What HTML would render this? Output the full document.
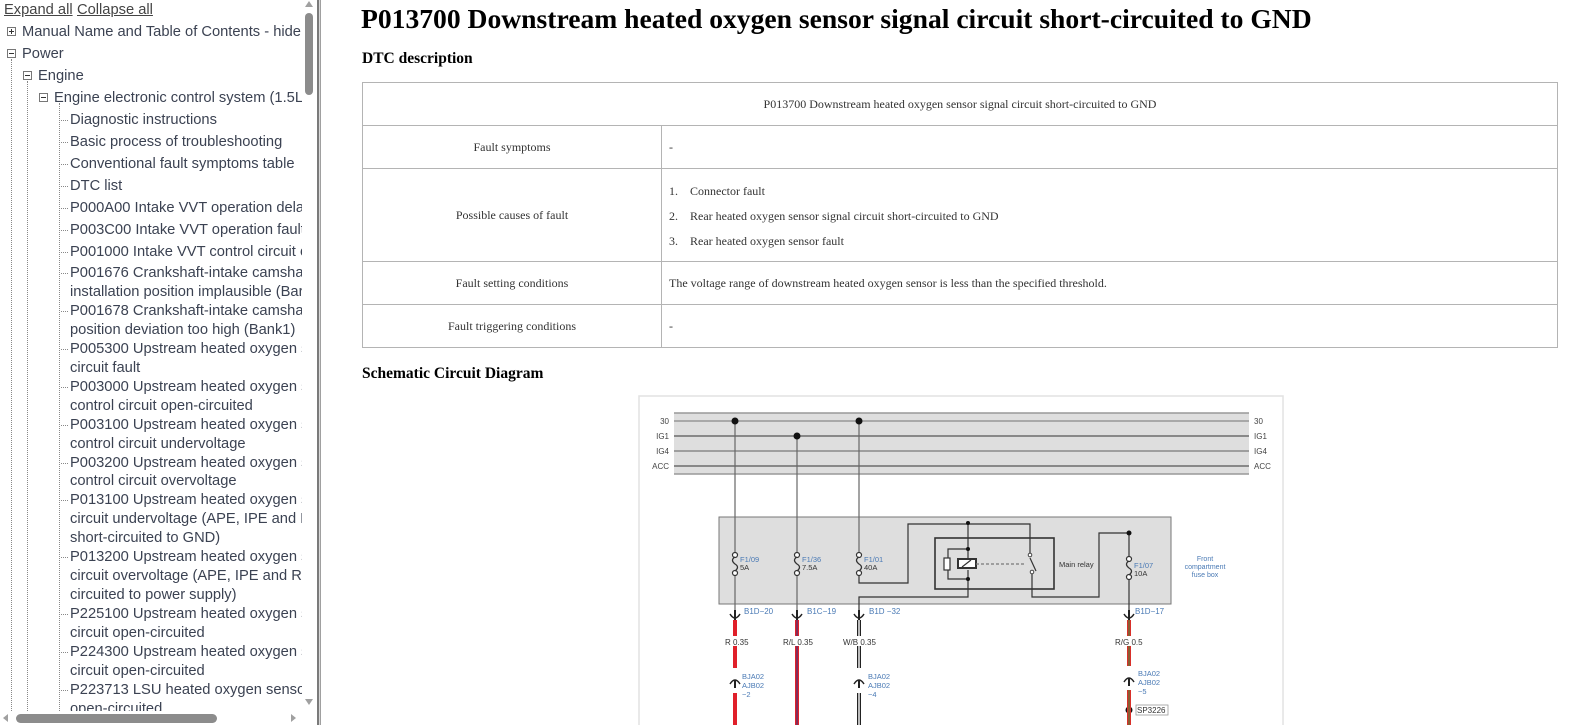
<!DOCTYPE html>
<html><head><meta charset="utf-8">
<style>
html,body{margin:0;padding:0;width:1594px;height:725px;overflow:hidden;background:#fff;}
#side{position:absolute;left:0;top:0;width:302px;height:725px;overflow:hidden;font-family:"Liberation Sans",Arial,sans-serif;font-size:14.7px;color:#3b4252;}
.l{position:absolute;white-space:nowrap;line-height:16px;}
.tb{position:absolute;width:7px;height:7px;border:1px solid #777;background:#fff;}
.tb:before{content:"";position:absolute;left:1px;top:3px;width:5px;height:1px;background:#333;}
.tb.p:after{content:"";position:absolute;left:3px;top:1px;width:1px;height:5px;background:#333;}
.vd{position:absolute;border-left:1px dotted #888;width:0;}
.hd{position:absolute;border-top:1px dotted #888;height:0;width:7px;}
#main{position:absolute;left:0;top:0;font-family:"Liberation Serif","Times New Roman",serif;color:#000;}
table{position:absolute;left:362px;top:82px;width:1196px;border-collapse:collapse;font-size:12px;color:#333;}
td{border:1.5px solid #b4b4b4;padding:0 7px;}
</style></head><body>
<div id="side">
<div class="l" style="left:4px;top:2px;text-decoration:underline;color:#444;">Expand all</div>
<div class="l" style="left:77px;top:2px;text-decoration:underline;color:#444;">Collapse all</div>
<div class="tb p" style="left:7px;top:27px"></div><div class="l" style="left:22px;top:24px">Manual Name and Table of Contents - hide</div>
<div class="tb" style="left:7px;top:49px"></div><div class="l" style="left:22px;top:46px">Power</div>
<div class="vd" style="left:11px;top:59px;height:666px"></div>
<div class="tb" style="left:23px;top:71px"></div><div class="l" style="left:38px;top:68px">Engine</div>
<div class="vd" style="left:27px;top:81px;height:644px"></div>
<div class="tb" style="left:39px;top:93px"></div><div class="l" style="left:54px;top:90px">Engine electronic control system (1.5L</div>
<div class="vd" style="left:59px;top:103px;height:622px"></div>
</div>
<script>
var items=[[120,"Diagnostic instructions",1],[142,"Basic process of troubleshooting",1],[164,"Conventional fault symptoms table",1],[186,"DTC list",1],[208,"P000A00 Intake VVT operation dela",1],[230,"P003C00 Intake VVT operation fault",1],[252,"P001000 Intake VVT control circuit o",1],[273,"P001676 Crankshaft-intake camsha",1],
[0,"installation position implausible (Bar",0],[0,"P001678 Crankshaft-intake camsha",1],[0,"position deviation too high (Bank1)",0],[0,"P005300 Upstream heated oxygen s",1],[0,"circuit fault",0],[0,"P003000 Upstream heated oxygen s",1],[0,"control circuit open-circuited",0],[0,"P003100 Upstream heated oxygen s",1],[0,"control circuit undervoltage",0],[0,"P003200 Upstream heated oxygen s",1],[0,"control circuit overvoltage",0],[0,"P013100 Upstream heated oxygen s",1],[0,"circuit undervoltage (APE, IPE and R",0],[0,"short-circuited to GND)",0],[0,"P013200 Upstream heated oxygen s",1],[0,"circuit overvoltage (APE, IPE and R",0],[0,"circuited to power supply)",0],[0,"P225100 Upstream heated oxygen s",1],[0,"circuit open-circuited",0],[0,"P224300 Upstream heated oxygen s",1],[0,"circuit open-circuited",0],[0,"P223713 LSU heated oxygen senso",1],[0,"open-circuited",0]];
var s=document.getElementById('side'),h='',y=273;
for(var i=0;i<items.length;i++){var it=items[i];if(i>=8){y+=18.95;}else y=it[0];
h+='<div class="l" style="left:70px;top:'+(y-8)+'px">'+it[1]+'</div>';
if(it[2])h+='<div class="hd" style="left:61px;top:'+y+'px"></div>';}
s.insertAdjacentHTML('beforeend',h);
</script>
<div style="position:absolute;left:302px;top:0;width:15px;height:711px;background:#fff;"></div>
<div style="position:absolute;left:305px;top:13px;width:8px;height:82px;background:#8c8c8c;border-radius:4px;"></div>
<div style="position:absolute;left:305px;top:1px;width:0;height:0;border-left:4px solid transparent;border-right:4px solid transparent;border-bottom:6px solid #a0a0a0;"></div>
<div style="position:absolute;left:305px;top:699px;width:0;height:0;border-left:4px solid transparent;border-right:4px solid transparent;border-top:6px solid #a0a0a0;"></div>
<div style="position:absolute;left:0;top:711px;width:317px;height:14px;background:#fff;"></div>
<div style="position:absolute;left:16px;top:714px;width:201px;height:9px;background:#8c8c8c;border-radius:5px;"></div>
<div style="position:absolute;left:3px;top:714px;width:0;height:0;border-top:4px solid transparent;border-bottom:4px solid transparent;border-right:5px solid #a0a0a0;"></div>
<div style="position:absolute;left:291px;top:714px;width:0;height:0;border-top:4px solid transparent;border-bottom:4px solid transparent;border-left:5px solid #a0a0a0;"></div>
<div style="position:absolute;left:317px;top:0;width:2px;height:725px;background:#7a7a7a;"></div>
<div style="position:absolute;left:319px;top:0;width:1px;height:725px;background:#d8d8d8;"></div>
<div style="position:absolute;left:320px;top:0;width:1px;height:725px;background:#a0a0a0;"></div>

<div id="main">
<div style="position:absolute;left:361px;top:3px;font-size:27.6px;font-weight:bold;white-space:nowrap;">P013700 Downstream heated oxygen sensor signal circuit short-circuited to GND</div>
<div style="position:absolute;left:362px;top:50px;font-size:15.5px;font-weight:bold;white-space:nowrap;">DTC description</div>
<table>
<tr style="height:43px"><td colspan="2" style="text-align:center">P013700 Downstream heated oxygen sensor signal circuit short-circuited to GND</td></tr>
<tr style="height:43px"><td style="width:284px;text-align:center">Fault symptoms</td><td>-</td></tr>
<tr style="height:93px"><td style="text-align:center">Possible causes of fault</td><td style="line-height:25px;padding-top:2px">
<div>1.&nbsp;&nbsp;&nbsp;&nbsp;Connector fault</div><div>2.&nbsp;&nbsp;&nbsp;&nbsp;Rear heated oxygen sensor signal circuit short-circuited to GND</div><div>3.&nbsp;&nbsp;&nbsp;&nbsp;Rear heated oxygen sensor fault</div></td></tr>
<tr style="height:43px"><td style="text-align:center">Fault setting conditions</td><td>The voltage range of downstream heated oxygen sensor is less than the specified threshold.</td></tr>
<tr style="height:43px"><td style="text-align:center">Fault triggering conditions</td><td>-</td></tr>
</table>
<div style="position:absolute;left:362px;top:365px;font-size:15.5px;font-weight:bold;white-space:nowrap;">Schematic Circuit Diagram</div>
</div>

<svg style="position:absolute;left:0;top:0" width="1594" height="725" font-family="Liberation Sans, Arial, sans-serif">
<rect x="639" y="396" width="644" height="340" fill="#fff" stroke="#e2e2e2" stroke-width="1.5"/>
<rect x="674" y="413" width="575" height="61" fill="#dedede"/>
<line x1="674" y1="413" x2="1249" y2="413" stroke="#999" stroke-width="1.5"/>
<line x1="674" y1="474" x2="1249" y2="474" stroke="#999" stroke-width="1.5"/>
<line x1="674" y1="421" x2="1249" y2="421" stroke="#888" stroke-width="1.2"/>
<line x1="674" y1="436" x2="1249" y2="436" stroke="#333" stroke-width="1"/>
<line x1="674" y1="451" x2="1249" y2="451" stroke="#777" stroke-width="1.2"/>
<line x1="674" y1="466" x2="1249" y2="466" stroke="#888" stroke-width="2"/>
<g font-size="8" fill="#444" text-anchor="end">
<text x="669" y="424">30</text><text x="669" y="439">IG1</text><text x="669" y="454">IG4</text><text x="669" y="469">ACC</text></g>
<g font-size="8" fill="#444">
<text x="1254" y="424">30</text><text x="1254" y="439">IG1</text><text x="1254" y="454">IG4</text><text x="1254" y="469">ACC</text></g>
<rect x="719" y="517" width="452" height="87" fill="#dedede" stroke="#777" stroke-width="1"/>
<g stroke="#666" stroke-width="1.2" fill="none">
<line x1="735" y1="421" x2="735" y2="553"/><line x1="797" y1="436" x2="797" y2="553"/><line x1="859" y1="421" x2="859" y2="553"/>
<line x1="735" y1="575" x2="735" y2="622"/><line x1="797" y1="575" x2="797" y2="622"/>
</g>
<g fill="#111"><circle cx="735" cy="421" r="3.5"/><circle cx="797" cy="436" r="3.5"/><circle cx="859" cy="421" r="3.5"/></g>
<g stroke="#333" stroke-width="1.2" fill="#fff">
<circle cx="735" cy="555" r="2.5"/><circle cx="735" cy="573" r="2.5"/>
<circle cx="797" cy="555" r="2.5"/><circle cx="797" cy="573" r="2.5"/>
<circle cx="859" cy="555" r="2.5"/><circle cx="859" cy="573" r="2.5"/>
<circle cx="1129" cy="559" r="2.5"/><circle cx="1129" cy="577" r="2.5"/>
</g>
<g stroke="#333" stroke-width="1.3" fill="none">
<path d="M735 557 q-5 3 0 7 q5 3 0 7"/><path d="M797 557 q-5 3 0 7 q5 3 0 7"/><path d="M859 557 q-5 3 0 7 q5 3 0 7"/><path d="M1129 561 q-5 3 0 7 q5 3 0 7"/>
</g>
<g font-size="7.5">
<text x="740" y="562" fill="#4a7ab5">F1/09</text><text x="740" y="570" fill="#333">5A</text>
<text x="802" y="562" fill="#4a7ab5">F1/36</text><text x="802" y="570" fill="#333">7.5A</text>
<text x="864" y="562" fill="#4a7ab5">F1/01</text><text x="864" y="570" fill="#333">40A</text>
<text x="1134" y="568" fill="#4a7ab5">F1/07</text><text x="1134" y="576" fill="#333">10A</text>
<text x="1059" y="567" fill="#333">Main relay</text>
</g>
<g font-size="7" fill="#4a7ab5" text-anchor="middle">
<text x="1205" y="561">Front</text><text x="1205" y="569">compartment</text><text x="1205" y="577">fuse box</text></g>
<g stroke="#333" stroke-width="1.2" fill="none">
<path d="M859 575 V583 H908 V524 H1030 V553"/>
<rect x="935" y="538" width="119" height="51" stroke-width="1.6"/>
<path d="M968 523 V558"/><path d="M968 570 V597 H859 V622"/>
<path d="M968 549 H948 V579 H968"/>
<path d="M1032 573 V597 H1099 V533 H1129 V557"/>
<path d="M1129 579 V622"/>
<line x1="1030" y1="558" x2="1036" y2="571"/>
</g>
<rect x="944" y="558" width="6" height="12" fill="#fff" stroke="#333" stroke-width="1.2"/>
<rect x="958" y="559" width="18" height="9" fill="#fff" stroke="#333" stroke-width="2"/>
<line x1="962" y1="567" x2="971" y2="560" stroke="#333" stroke-width="1.2"/>
<line x1="976" y1="564" x2="1026" y2="564" stroke="#777" stroke-width="1.3" stroke-dasharray="3,2"/>
<g fill="#fff" stroke="#333" stroke-width="0.9"><circle cx="1030" cy="555" r="1.8"/><circle cx="1032" cy="572" r="1.8"/></g>
<g fill="#111"><circle cx="968" cy="523" r="2"/><circle cx="968" cy="549" r="2"/><circle cx="968" cy="579" r="2"/><circle cx="1129" cy="533" r="2.5"/><circle cx="1129" cy="710" r="3.5"/></g>
<g stroke="#222" stroke-width="1.5" fill="none">
<path d="M730 614 q5 8 10 0"/><path d="M792 614 q5 8 10 0"/><path d="M854 614 q5 8 10 0"/><path d="M1124 614 q5 8 10 0"/>
<path d="M730 684 q5 -8 10 0"/><path d="M854 684 q5 -8 10 0"/><path d="M1124 682 q5 -8 10 0"/>
</g>
<g fill="#222"><rect x="734" y="610" width="2" height="10"/><rect x="796" y="610" width="2" height="10"/><rect x="858" y="610" width="2" height="10"/><rect x="1128" y="610" width="2" height="10"/>
<rect x="734" y="680" width="2" height="8"/><rect x="858" y="680" width="2" height="8"/><rect x="1128" y="678" width="2" height="8"/></g>
<g font-size="8" fill="#4a7ab5">
<text x="744" y="614">B1D−20</text><text x="807" y="614">B1C−19</text><text x="869" y="614">B1D −32</text><text x="1135" y="614">B1D−17</text>
</g>
<rect x="733" y="620" width="4" height="48" fill="#e0202a"/><rect x="733" y="693" width="4" height="40" fill="#e0202a"/>
<rect x="795" y="620" width="4" height="112" fill="#e0202a"/><rect x="796.5" y="620" width="1" height="112" fill="#2a3a8a"/>
<rect x="857" y="620" width="4" height="48" fill="#222"/><rect x="858.3" y="620" width="1.4" height="48" fill="#fff"/>
<rect x="857" y="693" width="4" height="40" fill="#222"/><rect x="858.3" y="693" width="1.4" height="40" fill="#fff"/>
<rect x="1127" y="620" width="4" height="46" fill="#d8302a"/><rect x="1128.5" y="620" width="1" height="46" fill="#3a8a3a"/>
<rect x="1127" y="690" width="4" height="40" fill="#d8302a"/><rect x="1128.5" y="690" width="1" height="40" fill="#3a8a3a"/>
<g font-size="8" fill="#333">
<rect x="723" y="636" width="22" height="10" fill="#fff"/><text x="725" y="645">R 0.35</text>
<rect x="782" y="636" width="26" height="10" fill="#fff"/><text x="783" y="645">R/L 0.35</text>
<rect x="843" y="636" width="28" height="10" fill="#fff"/><text x="843" y="645">W/B 0.35</text>
<rect x="1114" y="636" width="26" height="10" fill="#fff"/><text x="1115" y="645">R/G 0.5</text>
</g>
<g font-size="7.5" fill="#4a7ab5">
<text x="742" y="679">BJA02</text><text x="742" y="688">AJB02</text><text x="742" y="697">−2</text>
<text x="868" y="679">BJA02</text><text x="868" y="688">AJB02</text><text x="868" y="697">−4</text>
<text x="1138" y="676">BJA02</text><text x="1138" y="685">AJB02</text><text x="1138" y="694">−5</text>
</g>
<rect x="1136" y="705" width="32" height="10" fill="#fff" stroke="#999" stroke-width="0.8"/>
<text x="1137" y="713" font-size="8" fill="#333">SP3226</text>
</svg>
</body></html>
